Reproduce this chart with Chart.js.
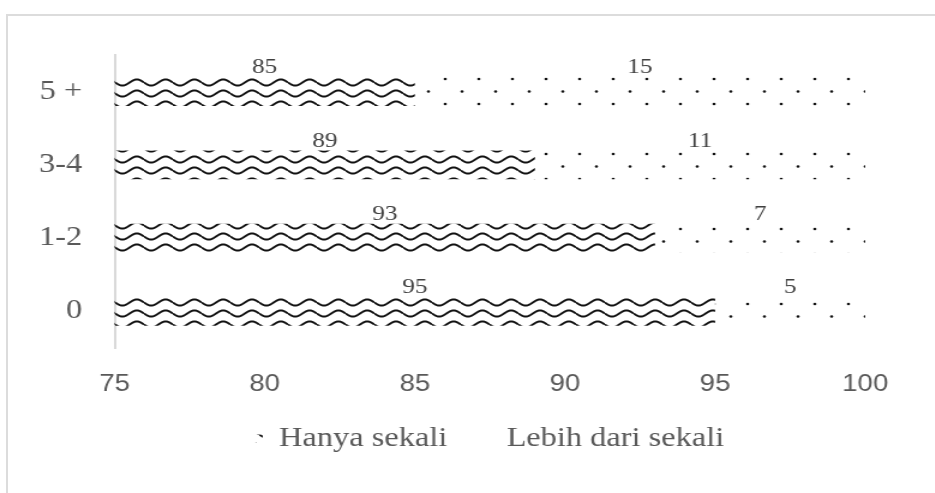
<!DOCTYPE html>
<html lang="en">
<head>
  <meta charset="UTF-8">
  <title>Hanya sekali vs Lebih dari sekali</title>
  <script src="https://cdn.jsdelivr.net/npm/chart.js"></script>
  <style>
    body {
      margin: 0;
      background: #fff;
      overflow: hidden;
    }
    .frame {
      position: absolute;
      left: 6px;
      top: 14px;
      width: 1000px;
      height: 600px;
      border-top: 2px solid #dcdcdc;
      border-left: 2px solid #dcdcdc;
    }
    /* the source picture is stretched sideways, so the chart is too */
    .wrap {
      position: absolute;
      left: 0;
      top: 0;
      width: 779px;
      height: 493px;
      transform: scaleX(1.2);
      transform-origin: 0 0;
    }
  </style>
</head>
<body>
<div class="frame"></div>
<div class="wrap"><canvas id="chart"></canvas></div>

<script>
  // data (top row first)
  const categories = ['5 +', '3-4', '1-2', '0'];
  const hanyaSekali = [85, 89, 93, 95];
  const lebihDariSekali = [15, 11, 7, 5];
  const xTicks = [75, 80, 85, 90, 95, 100];

  // wavy line fill
  function wavePattern() {
    const c = document.createElement('canvas');
    c.width = 24;
    c.height = 11;
    const g = c.getContext('2d');
    g.strokeStyle = '#111';
    g.lineWidth = 2;
    g.beginPath();
    for (let x = 0; x <= 24; x++) {
      const y = 5.5 + 3 * Math.sin(x / 24 * Math.PI * 2);
      if (x === 0) g.moveTo(x, y); else g.lineTo(x, y);
    }
    g.stroke();
    return g.createPattern(c, 'repeat');
  }

  // sparse dots fill
  function dotPattern() {
    const c = document.createElement('canvas');
    c.width = 28;
    c.height = 25;
    const g = c.getContext('2d');
    g.fillStyle = '#111';
    g.beginPath();
    g.arc(7, 4, 1.3, 0, Math.PI * 2);
    g.fill();
    g.beginPath();
    g.arc(21, 16.5, 1.3, 0, Math.PI * 2);
    g.fill();
    return g.createPattern(c, 'repeat');
  }

  const serif = '"Liberation Serif", "DejaVu Serif", serif';
  const sans = '"Liberation Sans", "Open Sans", sans-serif';

  // value labels above the visible part of each bar
  const valueLabels = {
    id: 'valueLabels',
    afterDatasetsDraw(chart) {
      const ctx = chart.ctx;
      const area = chart.chartArea;
      ctx.save();
      ctx.font = '21px ' + serif;
      ctx.fillStyle = '#404040';
      ctx.textAlign = 'center';
      ctx.textBaseline = 'alphabetic';
      chart.data.datasets.forEach((ds, i) => {
        chart.getDatasetMeta(i).data.forEach((bar, j) => {
          const left = Math.max(Math.min(bar.base, bar.x), area.left);
          const right = Math.max(bar.base, bar.x);
          ctx.fillText(ds.data[j], (left + right) / 2, bar.y - bar.height / 2 - 4);
        });
      });
      ctx.restore();
    }
  };

  new Chart(document.getElementById('chart'), {
    type: 'bar',
    data: {
      labels: categories,
      datasets: [
        {
          label: 'Hanya sekali',
          data: hanyaSekali,
          backgroundColor: wavePattern(),
          borderWidth: 0
        },
        {
          label: 'Lebih dari sekali',
          data: lebihDariSekali,
          backgroundColor: dotPattern(),
          borderWidth: 0
        }
      ]
    },
    options: {
      indexAxis: 'y',
      responsive: true,
      maintainAspectRatio: false,
      animation: false,
      barPercentage: 0.39,
      categoryPercentage: 1,
      layout: {
        padding: { left: 0, right: 58, top: 55, bottom: 31 }
      },
      scales: {
        x: {
          stacked: true,
          min: 75,
          max: 100,
          afterBuildTicks: s => { s.ticks = xTicks.map(v => ({ value: v })); },
          afterFit: s => { s.height = 47; },
          grid: { display: false, drawTicks: false },
          border: { display: false },
          ticks: {
            padding: 23,
            color: '#595959',
            font: { family: sans, size: 23 }
          }
        },
        y: {
          stacked: true,
          afterFit: s => { s.width = 95.5; },
          grid: { display: false, drawTicks: false },
          border: { display: true, color: '#d9d9d9', width: 2 },
          ticks: {
            padding: 27,
            color: '#595959',
            font: { family: serif, size: 27 }
          }
        }
      },
      plugins: {
        legend: {
          position: 'bottom',
          fullSize: false,
          labels: {
            boxWidth: 6,
            boxHeight: 8,
            padding: 30,
            color: '#595959',
            font: { family: serif, size: 27 }
          }
        },
        tooltip: { enabled: false }
      }
    },
    plugins: [valueLabels]
  });
</script>
</body>
</html>
